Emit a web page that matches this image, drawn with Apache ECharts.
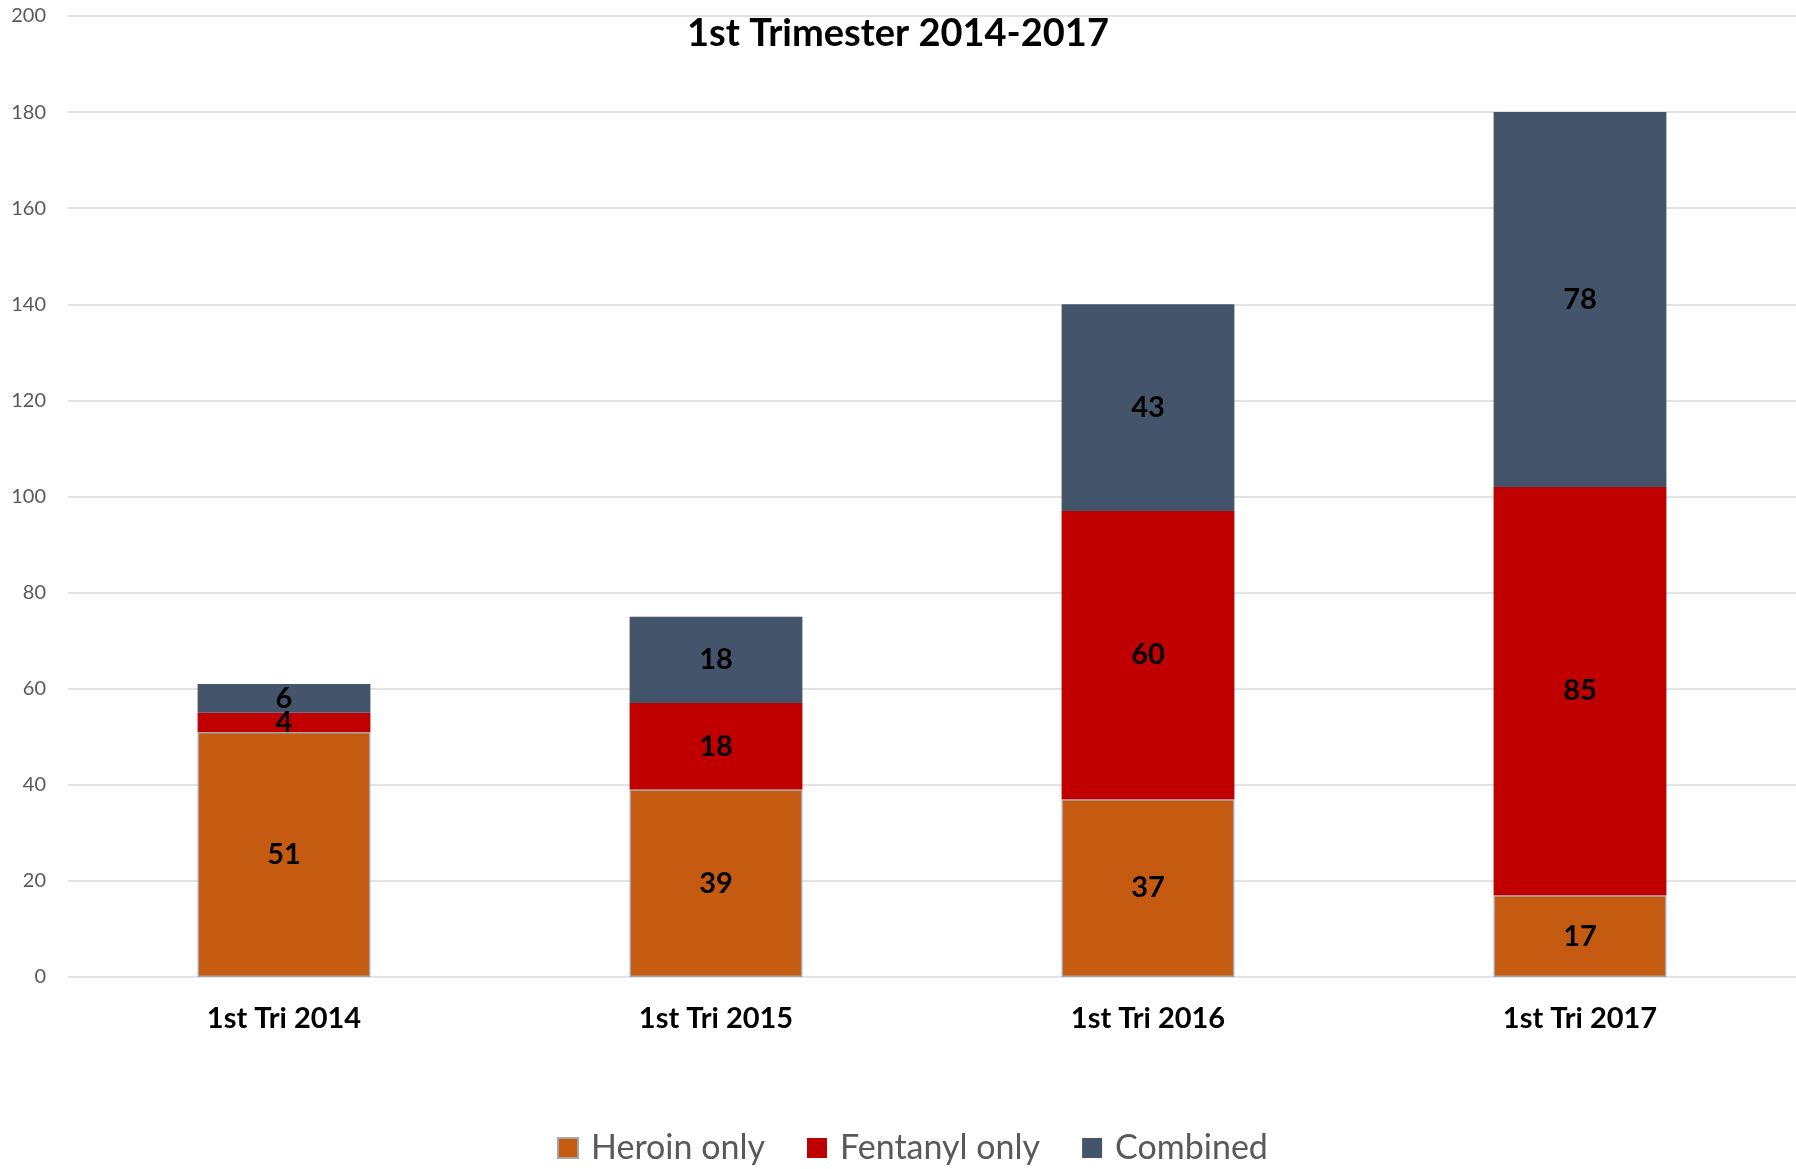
<!DOCTYPE html>
<html>
<head>
<meta charset="utf-8">
<script src="https://cdn.jsdelivr.net/npm/echarts@6/dist/echarts.min.js"></script>
<style>
  html, body { margin: 0; padding: 0; background: #fff; }
  #chart { width: 1796px; height: 1169px; }
</style>
</head>
<body>
<div id="chart"></div>
<script>
const categories = ['1st Tri 2014', '1st Tri 2015', '1st Tri 2016', '1st Tri 2017'];
const heroinOnly = [51, 39, 37, 17];
const fentanylOnly = [4, 18, 60, 85];
const combined = [6, 18, 43, 78];
const seriesNames = ['Heroin only', 'Fentanyl only', 'Combined'];
const titleText = '1st Trimester 2014-2017';

const chart = echarts.init(document.getElementById('chart'));

const labelOption = {
  show: true,
  position: 'inside',
  color: '#000',
  fontFamily: 'Lato',
  fontWeight: 'bold',
  fontSize: 29
};

const option = {
  animation: false,
  title: {
    text: titleText,
    left: 'center',
    top: 10,
    textStyle: { fontFamily: 'Lato', fontWeight: 'bold', fontSize: 38, color: '#000' }
  },
  legend: {
    data: seriesNames,
    left: 552,
    top: 1126,
    itemWidth: 20,
    itemHeight: 20,
    itemGap: 42,
    icon: 'rect',
    textStyle: { fontFamily: 'Lato', fontSize: 34, color: '#595959', padding: [0, 0, 0, 8] }
  },
  grid: { left: 68, right: -13, top: 16, bottom: 192 },
  xAxis: {
    type: 'category',
    data: categories,
    axisLine: { show: false },
    axisTick: { show: false },
    axisLabel: {
      margin: 27,
      color: '#000',
      fontFamily: 'Lato',
      fontWeight: 'bold',
      fontSize: 29
    }
  },
  yAxis: {
    type: 'value',
    min: 0,
    max: 200,
    interval: 20,
    axisLabel: { color: '#595959', fontFamily: 'Lato', fontSize: 20, margin: 22 },
    splitLine: { lineStyle: { color: '#d9d9d9', width: 1.5 } }
  },
  series: [
    {
      name: seriesNames[0],
      type: 'bar',
      stack: 'total',
      barWidth: '40%',
      itemStyle: { color: '#C55A11', borderColor: '#A6A6A6', borderWidth: 1.5 },
      label: labelOption,
      data: heroinOnly
    },
    {
      name: seriesNames[1],
      type: 'bar',
      stack: 'total',
      itemStyle: { color: '#C00000' },
      label: labelOption,
      data: fentanylOnly
    },
    {
      name: seriesNames[2],
      type: 'bar',
      stack: 'total',
      itemStyle: { color: '#44546A' },
      label: labelOption,
      data: combined
    }
  ]
};

chart.setOption(option);
</script>
</body>
</html>
